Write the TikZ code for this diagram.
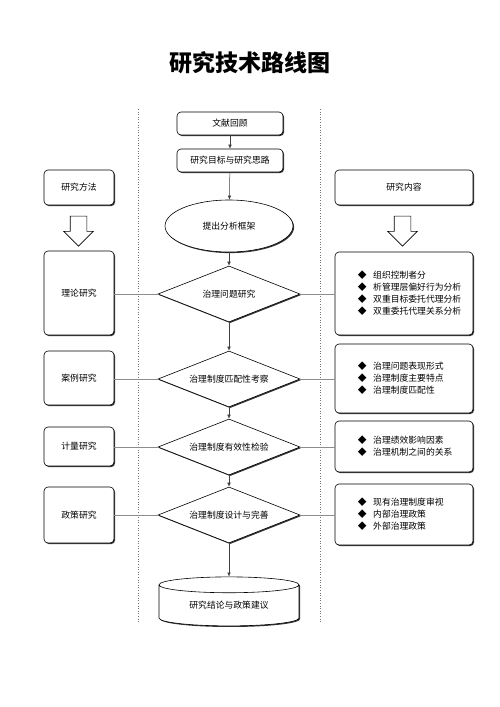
\documentclass[tikz,border=0pt]{standalone}
\usepackage{fontspec}
\setmainfont{Noto Sans CJK SC}
\usetikzlibrary{shapes.geometric,shapes.arrows,shadows,arrows.meta}
\tikzset{x=1pt,y=-1pt,
         txt/.style={font=\fontsize{8.8}{12}\selectfont},
         box/.style={txt,draw,fill=white,rounded corners=4pt,line width=0.6pt,inner sep=0pt,
           drop shadow={shadow xshift=1.1pt,shadow yshift=-1.1pt,opacity=1,fill=black!80}},
         oval/.style={box,ellipse,rounded corners=0pt},
         pick/.style={box,diamond,aspect=2.5,rounded corners=0pt,minimum width=142pt,minimum height=56pt},
         drum/.style={box,cylinder,rounded corners=0pt,shape border rotate=90,aspect=0.2},
         down/.style={single arrow,draw,fill=white,line width=0.6pt,shape border rotate=270,
           inner sep=8pt,single arrow head extend=6.5pt,minimum height=30pt},
         list/.style={txt,align=left,anchor=west,inner sep=0pt},
         flow/.style={draw=black!75,line width=0.5pt,-{Latex[length=4pt,width=3.5pt]}},
         link/.style={draw=black!45,line width=0.6pt},
         sep/.style={draw=black!55,line width=0.6pt,dotted}}
\newcommand{\itm}{◆\hspace{6.6pt}}
\begin{document}
\begin{tikzpicture}
\useasboundingbox (0,0) rectangle (500,707);
\node[font=\fontsize{23}{26}\selectfont\bfseries] (title) at (250,63) {研究技术路线图};
\draw[sep] (138,109) -- (138,623);
\draw[sep] (320,109) -- (320,623);

\node[box,minimum width=106pt,minimum height=23pt] (a) at (230,123.5) {文献回顾};
\node[box,minimum width=106pt,minimum height=23pt] (b) at (230,160.5) {研究目标与研究思路};
\node[oval,minimum width=128pt,minimum height=52pt] (c) at (229,226) {提出分析框架};
\node[pick] (d1) at (229,294) {治理问题研究};
\node[pick] (d2) at (229,379) {治理制度匹配性考察};
\node[pick] (d3) at (229,447) {治理制度有效性检验};
\node[pick] (d4) at (229,515) {治理制度设计与完善};
\node[drum,minimum width=140pt,minimum height=49pt] (e) at (229,605.5) {研究结论与政策建议};

\node[box,minimum width=70pt,minimum height=35pt] (m) at (79,187.5) {研究方法};
\node[down] (ma) at (78.5,227) {};
\node[box,minimum width=70pt,minimum height=84pt] (l1) at (79,293) {理论研究};
\node[box,minimum width=70pt,minimum height=54pt] (l2) at (79,378) {案例研究};
\node[box,minimum width=70pt,minimum height=39pt] (l3) at (79,446.5) {计量研究};
\node[box,minimum width=70pt,minimum height=56pt] (l4) at (79,515) {政策研究};

\node[box,minimum width=138pt,minimum height=35pt] (n) at (404,187.5) {研究内容};
\node[down] (na) at (402.5,227) {};
\node[box,minimum width=138pt,minimum height=83pt] (r1) at (404,293.5) {};
\node[box,minimum width=138pt,minimum height=69pt] (r2) at (404,378.5) {};
\node[box,minimum width=138pt,minimum height=51pt] (r3) at (404,446.5) {};
\node[box,minimum width=138pt,minimum height=61pt] (r4) at (404,514.5) {};
\node[list] (t1) at (357.6,293) {\itm 组织控制者分\\ \itm 析管理层偏好行为分析\\ \itm 双重目标委托代理分析\\ \itm 双重委托代理关系分析};
\node[list] (t2) at (357.6,378) {\itm 治理问题表现形式\\ \itm 治理制度主要特点\\ \itm 治理制度匹配性};
\node[list] (t3) at (357.6,446) {\itm 治理绩效影响因素\\ \itm 治理机制之间的关系};
\node[list] (t4) at (357.6,514.5) {\itm 现有治理制度审视\\ \itm 内部治理政策\\ \itm 外部治理政策};

\draw[flow] (a) -- (b);
\draw[flow] (b) -- (c);
\draw[flow] (c) -- (d1);
\draw[flow] (d1) -- (d2);
\draw[flow] (d2) -- (d3);
\draw[flow] (d3) -- (d4);
\draw[flow] (d4) -- (e);

\foreach \i in {1,...,4}{
  \draw[link] (d\i.west) -- (d\i.west -| l\i.east);
  \draw[link] (d\i.east) -- (d\i.east -| r\i.west);
}
\end{tikzpicture}
\end{document}
